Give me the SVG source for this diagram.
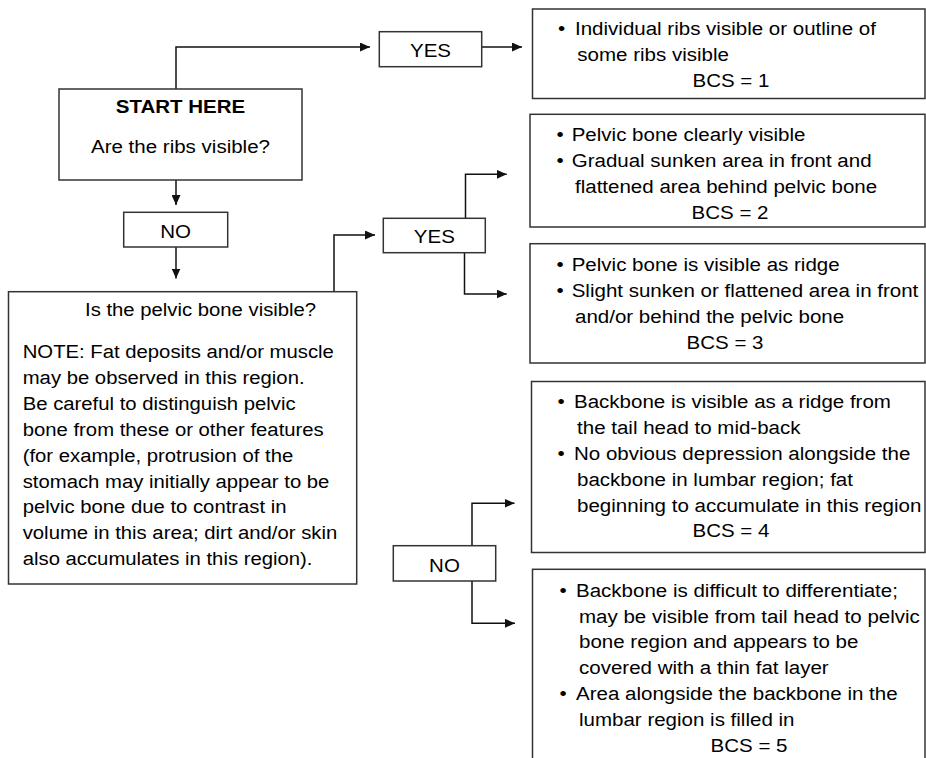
<svg xmlns="http://www.w3.org/2000/svg" width="926" height="758" viewBox="0 0 926 758">
<style>
.b{fill:#fff;stroke:#333;stroke-width:1.5}
.c{fill:none;stroke:#111;stroke-width:1.5}
text{font-family:"Liberation Sans",Arial,sans-serif;font-size:19px;fill:#000}
.p{font-size:18.8px}
.m{text-anchor:middle}
.bold{font-weight:bold}
</style>
<defs>
<marker id="ah" markerWidth="10" markerHeight="9" refX="10" refY="4.5" orient="auto" markerUnits="userSpaceOnUse"><path d="M0,0 L10,4.5 L0,9 z" fill="#111"/></marker>
</defs>
<rect width="926" height="758" fill="#fff"/>
<g id="connectors">
<path class="c" d="M176,89 V47 H370" marker-end="url(#ah)"/>
<path class="c" d="M481.7,47 H522" marker-end="url(#ah)"/>
<path class="c" d="M176,180 V205" marker-end="url(#ah)"/>
<path class="c" d="M176,247 V278.5" marker-end="url(#ah)"/>
<path class="c" d="M334,291.7 V235 H375" marker-end="url(#ah)"/>
<path class="c" d="M465.5,218.5 V174.3 H506.7" marker-end="url(#ah)"/>
<path class="c" d="M464.5,252.7 V294 H506.7" marker-end="url(#ah)"/>
<path class="c" d="M472,546 V503.3 H514.5" marker-end="url(#ah)"/>
<path class="c" d="M472,581 V623.3 H515" marker-end="url(#ah)"/>
</g>
<g id="start">
<rect class="b" x="59" y="89" width="243" height="91"/>
<text class="m bold" transform="scale(1.08,1)" x="167.13" y="113">START HERE</text>
<text class="m" transform="scale(1.08,1)" x="167.13" y="153">Are the ribs visible?</text>
</g>
<g id="yes1">
<rect class="b" x="379.3" y="31.7" width="102.4" height="35"/>
<text class="m" transform="scale(1.08,1)" x="398.61" y="57.3">YES</text>
</g>
<g id="no1">
<rect class="b" x="123.7" y="212.3" width="104" height="34.7"/>
<text class="m" transform="scale(1.08,1)" x="162.69" y="238.3">NO</text>
</g>
<g id="pelvic">
<rect class="b" x="8.5" y="291.7" width="348.2" height="292.3"/>
<text class="p" transform="scale(1.08,1)" x="78.7" y="316">Is the pelvic bone visible?</text>
<text class="p" transform="scale(1.08,1)">
<tspan x="21.02" y="358.3">NOTE: Fat deposits and/or muscle</tspan>
<tspan x="21.02" y="384.2">may be observed in this region.</tspan>
<tspan x="21.02" y="410">Be careful to distinguish pelvic</tspan>
<tspan x="21.02" y="435.9">bone from these or other features</tspan>
<tspan x="21.02" y="461.7">(for example, protrusion of the</tspan>
<tspan x="21.02" y="487.6">stomach may initially appear to be</tspan>
<tspan x="21.02" y="513.4">pelvic bone due to contrast in</tspan>
<tspan x="21.02" y="539.3">volume in this area; dirt and/or skin</tspan>
<tspan x="21.02" y="565.1">also accumulates in this region).</tspan>
</text>
</g>
<g id="yes2">
<rect class="b" x="383.3" y="218.3" width="102" height="34.4"/>
<text class="m" transform="scale(1.08,1)" x="402.13" y="243.3">YES</text>
</g>
<g id="no2">
<rect class="b" x="393.3" y="545.7" width="102.4" height="35.3"/>
<text class="m" transform="scale(1.08,1)" x="411.57" y="571.7">NO</text>
</g>
<g id="bcs1">
<rect class="b" x="532.5" y="9" width="392.5" height="89.5"/>
<text transform="scale(1.08,1)">
<tspan x="516.76" y="35">•</tspan><tspan x="532.41" y="35">Individual ribs visible or outline of</tspan>
<tspan x="534.54" y="61">some ribs visible</tspan>
</text>
<text class="m" transform="scale(1.08,1)" x="676.85" y="86.7">BCS = 1</text>
</g>
<g id="bcs2">
<rect class="b" x="530" y="114.3" width="395" height="112.7"/>
<text transform="scale(1.08,1)">
<tspan x="515.19" y="141">•</tspan><tspan x="529.35" y="141">Pelvic bone clearly visible</tspan>
<tspan x="515.19" y="167">•</tspan><tspan x="529.35" y="167">Gradual sunken area in front and</tspan>
<tspan x="532.41" y="193">flattened area behind pelvic bone</tspan>
</text>
<text class="m" transform="scale(1.08,1)" x="675.93" y="219">BCS = 2</text>
</g>
<g id="bcs3">
<rect class="b" x="530" y="243.7" width="395" height="119.3"/>
<text transform="scale(1.08,1)">
<tspan x="515.19" y="271">•</tspan><tspan x="529.35" y="271">Pelvic bone is visible as ridge</tspan>
<tspan x="515.19" y="297.3">•</tspan><tspan x="529.35" y="297.3">Slight sunken or flattened area in front</tspan>
<tspan x="532.41" y="323.3">and/or behind the pelvic bone</tspan>
</text>
<text class="m" transform="scale(1.08,1)" x="671.3" y="349">BCS = 3</text>
</g>
<g id="bcs4">
<rect class="b" x="531.5" y="381.5" width="393.5" height="171"/>
<text transform="scale(1.08,1)">
<tspan x="516.2" y="408.3">•</tspan><tspan x="531.5" y="408.3">Backbone is visible as a ridge from</tspan>
<tspan x="534.3" y="434">the tail head to mid-back</tspan>
<tspan x="516.2" y="460">•</tspan><tspan x="531.5" y="460">No obvious depression alongside the</tspan>
<tspan x="534.3" y="486">backbone in lumbar region; fat</tspan>
<tspan x="534.3" y="511.8">beginning to accumulate in this region</tspan>
</text>
<text class="m" transform="scale(1.08,1)" x="676.85" y="537.5">BCS = 4</text>
</g>
<g id="bcs5">
<rect class="b" x="532.5" y="569.3" width="392.5" height="200"/>
<text transform="scale(1.08,1)">
<tspan x="517.96" y="596.8">•</tspan><tspan x="533.33" y="596.8">Backbone is difficult to differentiate;</tspan>
<tspan x="536.11" y="622.6">may be visible from tail head to pelvic</tspan>
<tspan x="536.11" y="648.4">bone region and appears to be</tspan>
<tspan x="536.11" y="674.2">covered with a thin fat layer</tspan>
<tspan x="517.96" y="700">•</tspan><tspan x="533.33" y="700">Area alongside the backbone in the</tspan>
<tspan x="536.11" y="725.8">lumbar region is filled in</tspan>
</text>
<text class="m" transform="scale(1.08,1)" x="693.52" y="751.6">BCS = 5</text>
</g>
</svg>
